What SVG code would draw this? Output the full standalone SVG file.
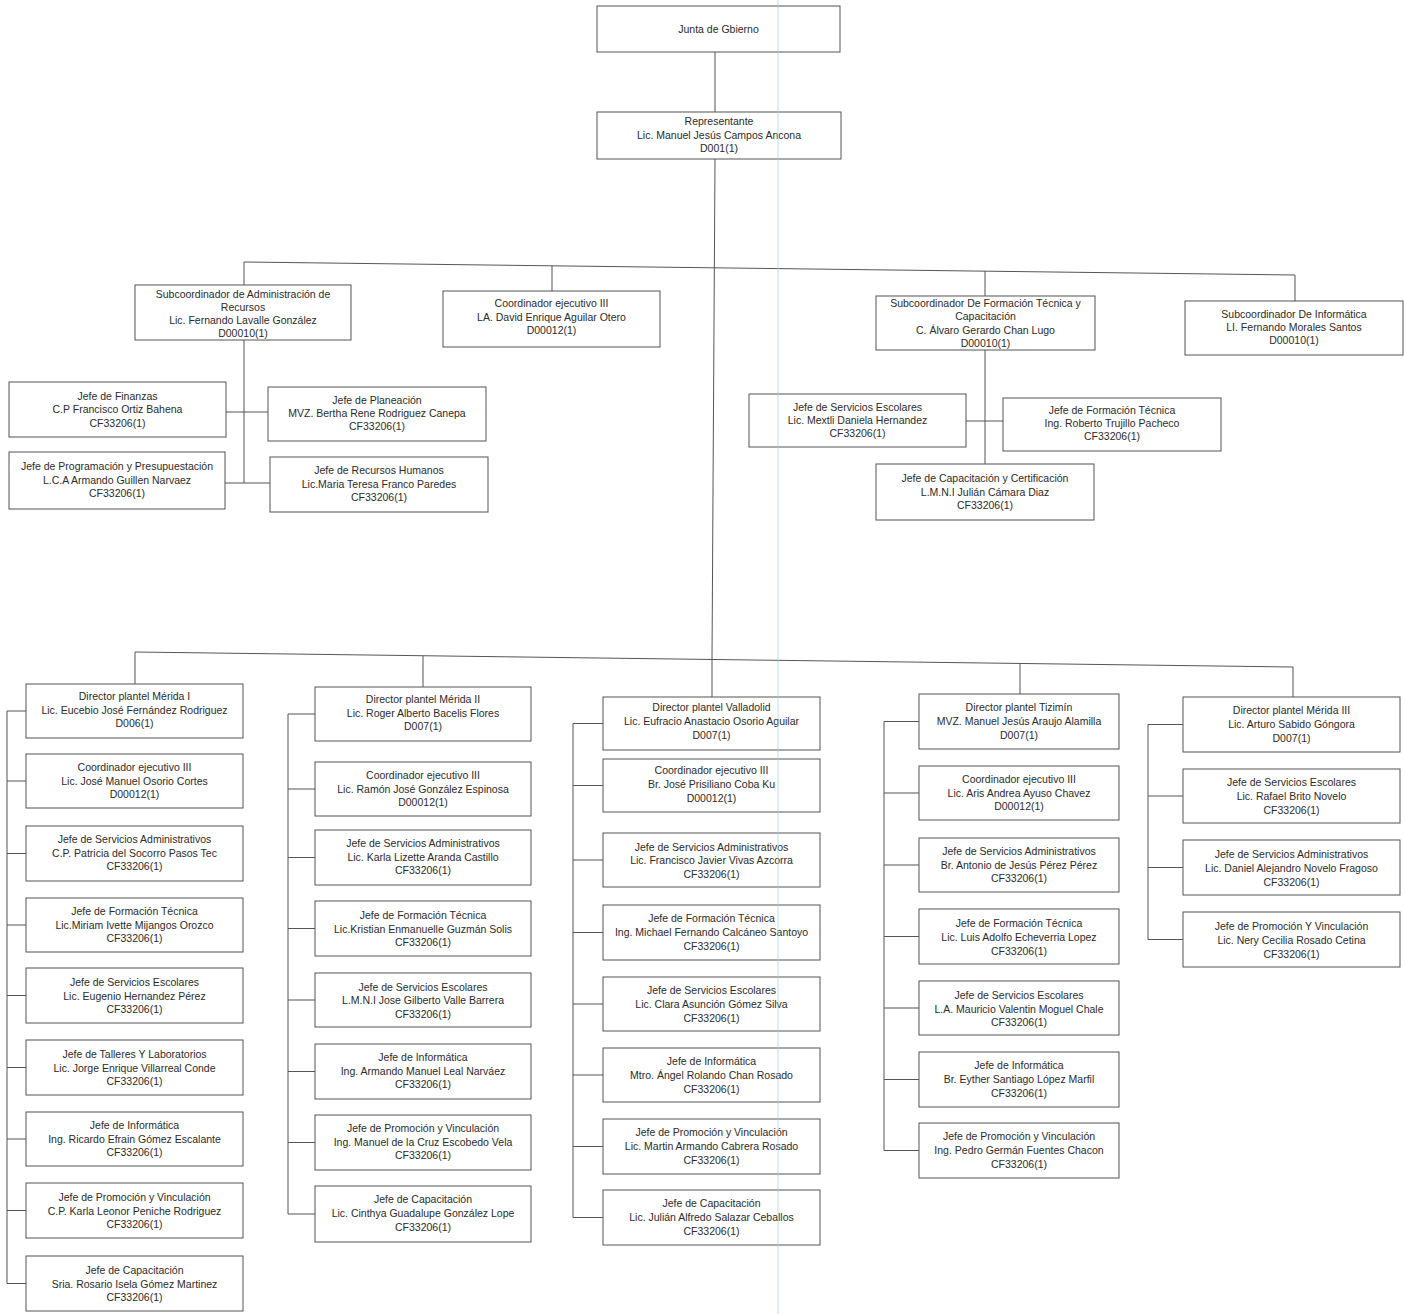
<svg xmlns="http://www.w3.org/2000/svg" width="1404" height="1314" viewBox="0 0 1404 1314">
<style>
.box{fill:#fff;stroke:#555;stroke-width:1}
.t{font-family:"Liberation Sans",Arial,sans-serif;font-size:10.5px;fill:#2b2b2b;text-anchor:middle}
.c{fill:none;stroke:#555;stroke-width:1}
</style>
<rect x="0" y="0" width="1404" height="1314" fill="#fff"/>
<g id="connectors" class="c">
<path d="M715,52 V112"/>
<path d="M715,159 L712,659"/>
<path d="M244,285 V262 L1295,275 V301"/>
<path d="M552,266 V291"/>
<path d="M985,271 V296"/>
<path d="M244,340 V483 M226,412 H268 M225,483 H270"/>
<path d="M985,350 V464 M966,421 H1003"/>
<path d="M135,684 V652 L1293,667 V697"/>
<path d="M423,656 V687"/>
<path d="M712,659 V697"/>
<path d="M1020,664 V694"/>
<path d="M7,711 V1283.5 M7,711 H26 M7,781 H26 M7,853.5 H26 M7,925 H26 M7,995.5 H26 M7,1067.5 H26 M7,1139 H26 M7,1210.5 H26 M7,1283.5 H26"/>
<path d="M288,714 V1214 M288,714 H315 M288,789 H315 M288,857.5 H315 M288,928.5 H315 M288,1000 H315 M288,1071.5 H315 M288,1142.5 H315 M288,1214 H315"/>
<path d="M573,723.5 V1217.5 M573,723.5 H603 M573,785.5 H603 M573,860 H603 M573,932.5 H603 M573,1004 H603 M573,1075 H603 M573,1146.5 H603 M573,1217.5 H603"/>
<path d="M884,721.5 V1150.5 M884,721.5 H919 M884,793 H919 M884,865 H919 M884,936.5 H919 M884,1008 H919 M884,1079.5 H919 M884,1150.5 H919"/>
<path d="M1148,724.5 V939.5 M1148,724.5 H1183 M1148,796 H1183 M1148,867.5 H1183 M1148,939.5 H1183"/>
</g>

<g id="junta"><rect class="box" x="597" y="6" width="243" height="46"/><text class="t" x="718.5" y="33">Junta de Gbierno</text></g>
<g id="representante"><rect class="box" x="597" y="112" width="244" height="47"/><text class="t"><tspan x="719" y="125">Representante</tspan><tspan x="719" y="139">Lic. Manuel Jesús Campos Ancona</tspan><tspan x="719" y="152">D001(1)</tspan></text></g>

<g id="sub-admin"><rect class="box" x="135" y="285" width="216" height="55"/><text class="t"><tspan x="243" y="298">Subcoordinador de Administración de</tspan><tspan x="243" y="311">Recursos</tspan><tspan x="243" y="324">Lic. Fernando Lavalle González</tspan><tspan x="243" y="337">D00010(1)</tspan></text></g>
<g id="coord-david"><rect class="box" x="443" y="291" width="217" height="56"/><text class="t"><tspan x="551.5" y="307">Coordinador ejecutivo III</tspan><tspan x="551.5" y="321">LA. David Enrique Aguilar Otero</tspan><tspan x="551.5" y="334">D00012(1)</tspan></text></g>
<g id="sub-formacion"><rect class="box" x="876" y="296" width="219" height="54"/><text class="t"><tspan x="985.5" y="307">Subcoordinador De Formación Técnica y</tspan><tspan x="985.5" y="320">Capacitación</tspan><tspan x="985.5" y="334">C. Álvaro Gerardo Chan Lugo</tspan><tspan x="985.5" y="347">D00010(1)</tspan></text></g>
<g id="sub-informatica"><rect class="box" x="1185" y="301" width="218" height="54"/><text class="t"><tspan x="1294" y="318">Subcoordinador De Informática</tspan><tspan x="1294" y="331">LI. Fernando Morales Santos</tspan><tspan x="1294" y="344">D00010(1)</tspan></text></g>

<g id="finanzas"><rect class="box" x="9" y="382" width="217" height="55"/><text class="t"><tspan x="117.5" y="400">Jefe de Finanzas</tspan><tspan x="117.5" y="413">C.P Francisco Ortiz Bahena</tspan><tspan x="117.5" y="427">CF33206(1)</tspan></text></g>
<g id="planeacion"><rect class="box" x="268" y="387" width="218" height="54"/><text class="t"><tspan x="377" y="404">Jefe de Planeación</tspan><tspan x="377" y="417">MVZ. Bertha Rene Rodriguez Canepa</tspan><tspan x="377" y="430">CF33206(1)</tspan></text></g>
<g id="programacion"><rect class="box" x="9" y="452" width="216" height="57"/><text class="t"><tspan x="117" y="470">Jefe de Programación y Presupuestación</tspan><tspan x="117" y="484">L.C.A Armando Guillen Narvaez</tspan><tspan x="117" y="497">CF33206(1)</tspan></text></g>
<g id="rrhh"><rect class="box" x="270" y="457" width="218" height="55"/><text class="t"><tspan x="379" y="474">Jefe de Recursos Humanos</tspan><tspan x="379" y="488">Lic.Maria Teresa Franco Paredes</tspan><tspan x="379" y="501">CF33206(1)</tspan></text></g>

<g id="serv-esc-sub"><rect class="box" x="749" y="394" width="217" height="53"/><text class="t"><tspan x="857.5" y="411">Jefe de Servicios Escolares</tspan><tspan x="857.5" y="424">Lic. Mextli Daniela Hernandez</tspan><tspan x="857.5" y="437">CF33206(1)</tspan></text></g>
<g id="form-tec-sub"><rect class="box" x="1003" y="398" width="218" height="53"/><text class="t"><tspan x="1112" y="414">Jefe de Formación Técnica</tspan><tspan x="1112" y="427">Ing. Roberto Trujillo Pacheco</tspan><tspan x="1112" y="440">CF33206(1)</tspan></text></g>
<g id="capacitacion-cert"><rect class="box" x="876" y="464" width="218" height="56"/><text class="t"><tspan x="985" y="482">Jefe de Capacitación y Certificación</tspan><tspan x="985" y="496">L.M.N.I Julián Cámara Diaz</tspan><tspan x="985" y="509">CF33206(1)</tspan></text></g>

<!-- Column 1 -->
<g id="c1-1"><rect class="box" x="26" y="684" width="217" height="54"/><text class="t"><tspan x="134.5" y="700">Director plantel Mérida I</tspan><tspan x="134.5" y="714">Lic. Eucebio José Fernández Rodriguez</tspan><tspan x="134.5" y="727">D006(1)</tspan></text></g>
<g id="c1-2"><rect class="box" x="26" y="754" width="217" height="54"/><text class="t"><tspan x="134.5" y="771">Coordinador ejecutivo III</tspan><tspan x="134.5" y="785">Lic. José Manuel Osorio Cortes</tspan><tspan x="134.5" y="798">D00012(1)</tspan></text></g>
<g id="c1-3"><rect class="box" x="26" y="826" width="217" height="55"/><text class="t"><tspan x="134.5" y="843">Jefe de Servicios Administrativos</tspan><tspan x="134.5" y="857">C.P. Patricia del Socorro Pasos Tec</tspan><tspan x="134.5" y="870">CF33206(1)</tspan></text></g>
<g id="c1-4"><rect class="box" x="26" y="898" width="217" height="54"/><text class="t"><tspan x="134.5" y="915">Jefe de Formación Técnica</tspan><tspan x="134.5" y="929">Lic.Miriam Ivette Mijangos Orozco</tspan><tspan x="134.5" y="942">CF33206(1)</tspan></text></g>
<g id="c1-5"><rect class="box" x="26" y="968" width="217" height="55"/><text class="t"><tspan x="134.5" y="986">Jefe de Servicios Escolares</tspan><tspan x="134.5" y="1000">Lic. Eugenio Hernandez Pérez</tspan><tspan x="134.5" y="1013">CF33206(1)</tspan></text></g>
<g id="c1-6"><rect class="box" x="26" y="1040" width="217" height="55"/><text class="t"><tspan x="134.5" y="1058">Jefe de Talleres Y Laboratorios</tspan><tspan x="134.5" y="1072">Lic. Jorge Enrique Villarreal Conde</tspan><tspan x="134.5" y="1085">CF33206(1)</tspan></text></g>
<g id="c1-7"><rect class="box" x="26" y="1112" width="217" height="54"/><text class="t"><tspan x="134.5" y="1129">Jefe de Informática</tspan><tspan x="134.5" y="1143">Ing. Ricardo Efrain Gómez Escalante</tspan><tspan x="134.5" y="1156">CF33206(1)</tspan></text></g>
<g id="c1-8"><rect class="box" x="26" y="1183" width="217" height="55"/><text class="t"><tspan x="134.5" y="1201">Jefe de Promoción y Vinculación</tspan><tspan x="134.5" y="1215">C.P. Karla Leonor Peniche Rodriguez</tspan><tspan x="134.5" y="1228">CF33206(1)</tspan></text></g>
<g id="c1-9"><rect class="box" x="26" y="1256" width="217" height="55"/><text class="t"><tspan x="134.5" y="1274">Jefe de Capacitación</tspan><tspan x="134.5" y="1288">Sria. Rosario Isela Gómez Martinez</tspan><tspan x="134.5" y="1301">CF33206(1)</tspan></text></g>

<!-- Column 2 -->
<g id="c2-1"><rect class="box" x="315" y="687" width="216" height="54"/><text class="t"><tspan x="423" y="703">Director plantel Mérida II</tspan><tspan x="423" y="717">Lic. Roger Alberto Bacelis Flores</tspan><tspan x="423" y="730">D007(1)</tspan></text></g>
<g id="c2-2"><rect class="box" x="315" y="762" width="216" height="54"/><text class="t"><tspan x="423" y="779">Coordinador ejecutivo III</tspan><tspan x="423" y="793">Lic. Ramón José González Espinosa</tspan><tspan x="423" y="806">D00012(1)</tspan></text></g>
<g id="c2-3"><rect class="box" x="315" y="830" width="216" height="55"/><text class="t"><tspan x="423" y="847">Jefe de Servicios Administrativos</tspan><tspan x="423" y="861">Lic. Karla Lizette Aranda Castillo</tspan><tspan x="423" y="874">CF33206(1)</tspan></text></g>
<g id="c2-4"><rect class="box" x="315" y="901" width="216" height="55"/><text class="t"><tspan x="423" y="919">Jefe de Formación Técnica</tspan><tspan x="423" y="933">Lic.Kristian Enmanuelle Guzmán Solis</tspan><tspan x="423" y="946">CF33206(1)</tspan></text></g>
<g id="c2-5"><rect class="box" x="315" y="973" width="216" height="54"/><text class="t"><tspan x="423" y="991">Jefe de Servicios Escolares</tspan><tspan x="423" y="1004">L.M.N.I Jose Gilberto Valle Barrera</tspan><tspan x="423" y="1018">CF33206(1)</tspan></text></g>
<g id="c2-6"><rect class="box" x="315" y="1044" width="216" height="55"/><text class="t"><tspan x="423" y="1061">Jefe de Informática</tspan><tspan x="423" y="1075">Ing. Armando Manuel Leal Narváez</tspan><tspan x="423" y="1088">CF33206(1)</tspan></text></g>
<g id="c2-7"><rect class="box" x="315" y="1115" width="216" height="55"/><text class="t"><tspan x="423" y="1132">Jefe de Promoción y Vinculación</tspan><tspan x="423" y="1146">Ing. Manuel de la Cruz Escobedo Vela</tspan><tspan x="423" y="1159">CF33206(1)</tspan></text></g>
<g id="c2-8"><rect class="box" x="315" y="1186" width="216" height="56"/><text class="t"><tspan x="423" y="1203">Jefe de Capacitación</tspan><tspan x="423" y="1217">Lic. Cinthya Guadalupe González Lope</tspan><tspan x="423" y="1231">CF33206(1)</tspan></text></g>

<!-- Column 3 -->
<g id="c3-1"><rect class="box" x="603" y="697" width="217" height="53"/><text class="t"><tspan x="711.5" y="711">Director plantel Valladolid</tspan><tspan x="711.5" y="725">Lic. Eufracio Anastacio Osorio Aguilar</tspan><tspan x="711.5" y="739">D007(1)</tspan></text></g>
<g id="c3-2"><rect class="box" x="603" y="759" width="217" height="53"/><text class="t"><tspan x="711.5" y="774">Coordinador ejecutivo III</tspan><tspan x="711.5" y="788">Br. José Prisiliano Coba Ku</tspan><tspan x="711.5" y="802">D00012(1)</tspan></text></g>
<g id="c3-3"><rect class="box" x="603" y="833" width="217" height="54"/><text class="t"><tspan x="711.5" y="851">Jefe de Servicios Administrativos</tspan><tspan x="711.5" y="864">Lic. Francisco Javier Vivas Azcorra</tspan><tspan x="711.5" y="878">CF33206(1)</tspan></text></g>
<g id="c3-4"><rect class="box" x="603" y="905" width="217" height="55"/><text class="t"><tspan x="711.5" y="922">Jefe de Formación Técnica</tspan><tspan x="711.5" y="936">Ing. Michael Fernando Calcáneo Santoyo</tspan><tspan x="711.5" y="950">CF33206(1)</tspan></text></g>
<g id="c3-5"><rect class="box" x="603" y="977" width="217" height="54"/><text class="t"><tspan x="711.5" y="994">Jefe de Servicios Escolares</tspan><tspan x="711.5" y="1008">Lic. Clara Asunción Gómez Silva</tspan><tspan x="711.5" y="1022">CF33206(1)</tspan></text></g>
<g id="c3-6"><rect class="box" x="603" y="1048" width="217" height="54"/><text class="t"><tspan x="711.5" y="1065">Jefe de Informática</tspan><tspan x="711.5" y="1079">Mtro. Ángel Rolando Chan Rosado</tspan><tspan x="711.5" y="1093">CF33206(1)</tspan></text></g>
<g id="c3-7"><rect class="box" x="603" y="1119" width="217" height="55"/><text class="t"><tspan x="711.5" y="1136">Jefe de Promoción y Vinculación</tspan><tspan x="711.5" y="1150">Lic. Martin Armando Cabrera Rosado</tspan><tspan x="711.5" y="1164">CF33206(1)</tspan></text></g>
<g id="c3-8"><rect class="box" x="603" y="1190" width="217" height="55"/><text class="t"><tspan x="711.5" y="1207">Jefe de Capacitación</tspan><tspan x="711.5" y="1221">Lic. Julián Alfredo Salazar Ceballos</tspan><tspan x="711.5" y="1235">CF33206(1)</tspan></text></g>

<!-- Column 4 -->
<g id="c4-1"><rect class="box" x="919" y="694" width="200" height="55"/><text class="t"><tspan x="1019" y="711">Director plantel Tizimín</tspan><tspan x="1019" y="725">MVZ. Manuel Jesús Araujo Alamilla</tspan><tspan x="1019" y="739">D007(1)</tspan></text></g>
<g id="c4-2"><rect class="box" x="919" y="766" width="200" height="54"/><text class="t"><tspan x="1019" y="783">Coordinador ejecutivo III</tspan><tspan x="1019" y="797">Lic. Aris Andrea Ayuso Chavez</tspan><tspan x="1019" y="810">D00012(1)</tspan></text></g>
<g id="c4-3"><rect class="box" x="919" y="838" width="200" height="54"/><text class="t"><tspan x="1019" y="855">Jefe de Servicios Administrativos</tspan><tspan x="1019" y="869">Br. Antonio de Jesús Pérez Pérez</tspan><tspan x="1019" y="882">CF33206(1)</tspan></text></g>
<g id="c4-4"><rect class="box" x="919" y="909" width="200" height="55"/><text class="t"><tspan x="1019" y="927">Jefe de Formación Técnica</tspan><tspan x="1019" y="941">Lic. Luis Adolfo Echeverria Lopez</tspan><tspan x="1019" y="955">CF33206(1)</tspan></text></g>
<g id="c4-5"><rect class="box" x="919" y="981" width="200" height="54"/><text class="t"><tspan x="1019" y="999">Jefe de Servicios Escolares</tspan><tspan x="1019" y="1013">L.A. Mauricio Valentin Moguel Chale</tspan><tspan x="1019" y="1026">CF33206(1)</tspan></text></g>
<g id="c4-6"><rect class="box" x="919" y="1052" width="200" height="55"/><text class="t"><tspan x="1019" y="1069">Jefe de Informática</tspan><tspan x="1019" y="1083">Br. Eyther Santiago López Marfil</tspan><tspan x="1019" y="1097">CF33206(1)</tspan></text></g>
<g id="c4-7"><rect class="box" x="919" y="1123" width="200" height="55"/><text class="t"><tspan x="1019" y="1140">Jefe de Promoción y Vinculación</tspan><tspan x="1019" y="1154">Ing. Pedro Germán Fuentes Chacon</tspan><tspan x="1019" y="1168">CF33206(1)</tspan></text></g>

<!-- Column 5 -->
<g id="c5-1"><rect class="box" x="1183" y="697" width="217" height="55"/><text class="t"><tspan x="1291.5" y="714">Director plantel Mérida III</tspan><tspan x="1291.5" y="728">Lic. Arturo Sabido Góngora</tspan><tspan x="1291.5" y="742">D007(1)</tspan></text></g>
<g id="c5-2"><rect class="box" x="1183" y="769" width="217" height="54"/><text class="t"><tspan x="1291.5" y="786">Jefe de Servicios Escolares</tspan><tspan x="1291.5" y="800">Lic. Rafael Brito Novelo</tspan><tspan x="1291.5" y="814">CF33206(1)</tspan></text></g>
<g id="c5-3"><rect class="box" x="1183" y="840" width="217" height="55"/><text class="t"><tspan x="1291.5" y="858">Jefe de Servicios Administrativos</tspan><tspan x="1291.5" y="872">Lic. Daniel Alejandro Novelo Fragoso</tspan><tspan x="1291.5" y="886">CF33206(1)</tspan></text></g>
<g id="c5-4"><rect class="box" x="1183" y="912" width="217" height="55"/><text class="t"><tspan x="1291.5" y="930">Jefe de Promoción Y Vinculación</tspan><tspan x="1291.5" y="944">Lic. Nery Cecilia Rosado Cetina</tspan><tspan x="1291.5" y="958">CF33206(1)</tspan></text></g>

<line x1="778" y1="0" x2="778" y2="1314" stroke="#9fd6e6" stroke-width="1.5" opacity="0.45"/>
</svg>
